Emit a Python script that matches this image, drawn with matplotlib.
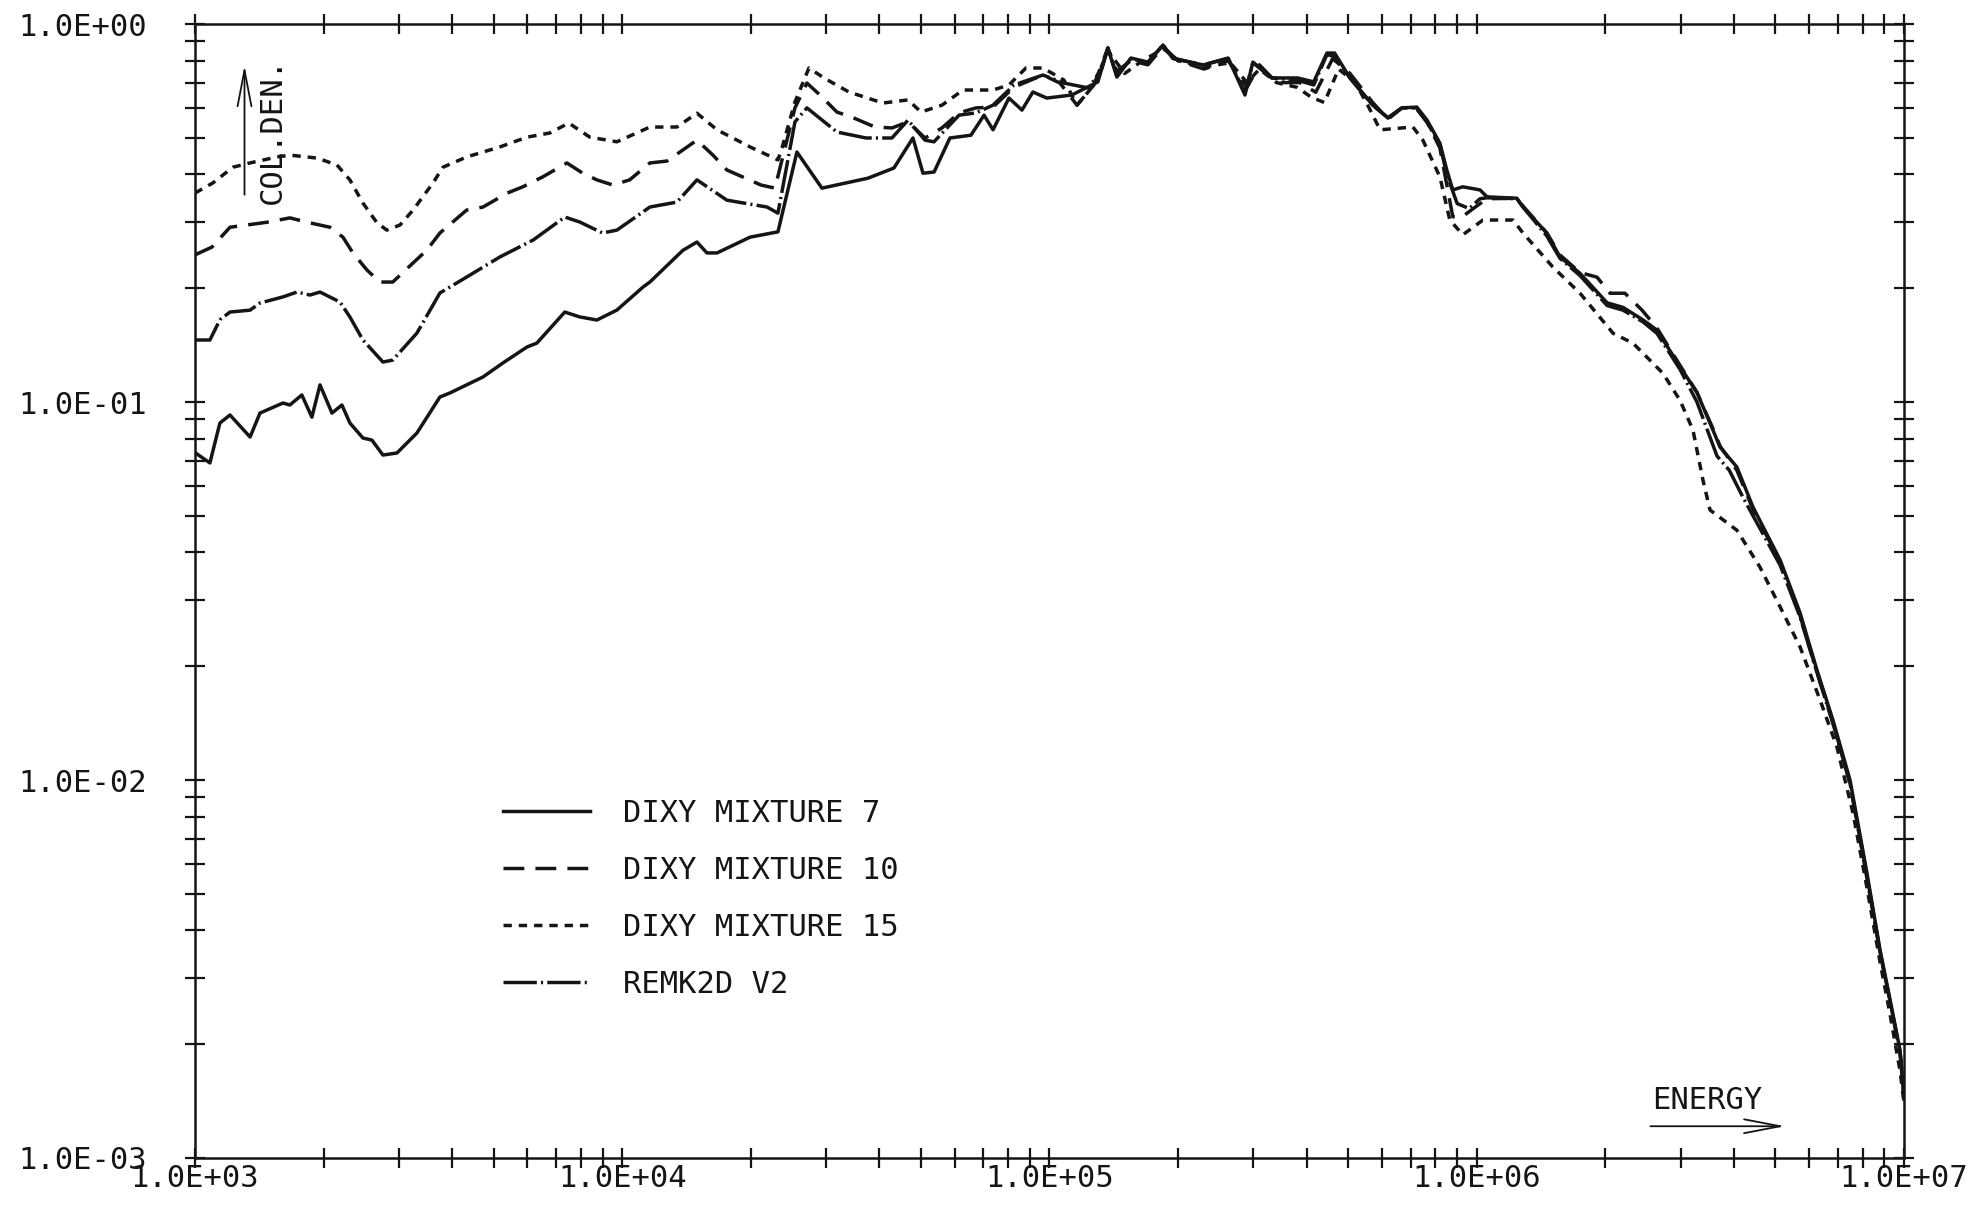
import numpy as np
import matplotlib
matplotlib.use("Agg")
import matplotlib.pyplot as plt
from matplotlib.ticker import LogLocator, FuncFormatter, NullFormatter

# Collision density spectra (energy in eV)
e_mix7 = [
    1000, 1084, 1144, 1208, 1346, 1420, 1607, 1668,
    1779, 1878, 1962, 2093, 2208, 2305, 2473, 2596,
    2754, 2970, 3308, 3744, 3954, 4723, 5260, 5985,
    6314, 7340, 7960, 8726, 9720, 11190, 11610, 13870,
    14960, 15790, 16670, 19920, 23150, 25640, 29340, 37600,
    43250, 47920, 50580, 53700, 58480, 65500, 70290, 73770,
    80380, 86240, 91460, 98560, 112800, 129800, 137000, 143800,
    155100, 170000, 184400, 194600, 228800, 261900, 286800, 299300,
    331600, 381100, 415500, 446000, 465000, 505000, 571000, 620000,
    668000, 724000, 765000, 820000, 851000, 879000, 928000, 1018000,
    1057000, 1242000, 1283000, 1459000, 1566000, 1745000, 2019000, 2200000,
    2448000, 2641000, 2991000, 3277000, 3572000, 3710000, 4063000, 4433000,
    5130000, 5711000, 6259000, 6820000, 7476000, 8188000, 8790000, 9276000,
    9790000, 10000000]
y_mix7 = [
    0.0735, 0.0690, 0.0880, 0.0924, 0.0808, 0.0935, 0.0994, 0.0982,
    0.1044, 0.0912, 0.111, 0.0935, 0.0982, 0.0880, 0.0803, 0.0793,
    0.0724, 0.0733, 0.0828, 0.1031, 0.1057, 0.1165, 0.1269, 0.1398,
    0.1432, 0.1730, 0.1679, 0.1648, 0.1751, 0.2015, 0.2077, 0.252,
    0.265, 0.248, 0.248, 0.273, 0.282, 0.4585, 0.368, 0.391,
    0.416, 0.4995, 0.403, 0.406, 0.4995, 0.508, 0.574, 0.525,
    0.637, 0.592, 0.661, 0.637, 0.649, 0.703, 0.864, 0.724,
    0.813, 0.793, 0.880, 0.813, 0.779, 0.813, 0.649, 0.793,
    0.720, 0.720, 0.703, 0.838, 0.838, 0.720, 0.610, 0.564,
    0.600, 0.603, 0.557, 0.484, 0.411, 0.364, 0.371, 0.364,
    0.349, 0.346, 0.328, 0.280, 0.242, 0.219, 0.183, 0.178,
    0.165, 0.155, 0.124, 0.106, 0.0843, 0.0760, 0.0673, 0.0527,
    0.0382, 0.0277, 0.0195, 0.0144, 0.0100, 0.00568, 0.00355, 0.00262,
    0.00193, 0.00143]

e_mix10 = [
    1000, 1096, 1208, 1323, 1474, 1669, 1830, 2070,
    2220, 2343, 2526, 2707, 2904, 3240, 3491, 3744,
    4325, 4723, 5380, 5853, 6513, 7423, 8087, 8726,
    9509, 10410, 11610, 12730, 14960, 16310, 17580, 21130,
    22780, 25370, 27060, 29030, 31810, 34860, 39050, 42790,
    46660, 51130, 56030, 61420, 67300, 73780, 82600, 96560,
    105800, 116000, 127100, 137000, 143800, 155100, 170000, 184400,
    200000, 230000, 262000, 290000, 310000, 340000, 385000, 420000,
    460000, 505000, 571000, 620000, 668000, 720000, 765000, 820000,
    879000, 928000, 1000000, 1057000, 1242000, 1283000, 1459000, 1566000,
    1745000, 1912000, 2051000, 2223000, 2437000, 2641000, 2991000, 3277000,
    3572000, 3710000, 4063000, 4433000, 5130000, 5711000, 6259000, 6820000,
    7476000, 8188000, 8790000, 9276000, 9790000, 10000000]
y_mix10 = [
    0.245, 0.257, 0.290, 0.294, 0.299, 0.307, 0.299, 0.290,
    0.273, 0.248, 0.2236, 0.2077, 0.2077, 0.2333, 0.2524, 0.280,
    0.322, 0.328, 0.357, 0.371, 0.394, 0.429, 0.403, 0.387,
    0.375, 0.387, 0.429, 0.434, 0.493, 0.450, 0.411, 0.375,
    0.368, 0.600, 0.698, 0.649, 0.585, 0.564, 0.534, 0.531,
    0.551, 0.4995, 0.531, 0.582, 0.600, 0.603, 0.681, 0.733,
    0.698, 0.610, 0.690, 0.864, 0.75, 0.80, 0.78, 0.87,
    0.80, 0.76, 0.80, 0.68, 0.78, 0.70, 0.70, 0.66,
    0.81, 0.74, 0.62, 0.56, 0.60, 0.60, 0.55, 0.47,
    0.309, 0.31, 0.33, 0.345, 0.346, 0.33, 0.28, 0.245,
    0.22, 0.214, 0.194, 0.194, 0.175, 0.157, 0.125, 0.106,
    0.085, 0.0765, 0.066, 0.052, 0.0378, 0.0272, 0.0193, 0.0142,
    0.0098, 0.0055, 0.0035, 0.0026, 0.0019, 0.0015]

e_mix15 = [
    1000, 1102, 1227, 1345, 1556, 1669, 1929, 2149,
    2305, 2473, 2667, 2812, 3020, 3240, 3608, 3806,
    4325, 5174, 5985, 6773, 7500, 8400, 9720, 11610,
    13430, 14960, 16670, 19920, 23150, 23660, 25370, 27360,
    29670, 33940, 40760, 46660, 50040, 56030, 62760, 73780,
    80380, 88100, 96560, 108100, 116000, 127100, 137000, 150000,
    165000, 185000, 200000, 230000, 265000, 290000, 310000, 340000,
    380000, 410000, 440000, 475000, 520000, 560000, 594000, 709000,
    748000, 820000, 865000, 928000, 1034000, 1216000, 1283000, 1507000,
    1745000, 2085000, 2323000, 2730000, 2991000, 3207000, 3384000, 3516000,
    4063000, 4600000, 5130000, 5711000, 6359000, 6970000, 7598000, 8188000,
    8790000, 9276000, 9790000, 10000000]
y_mix15 = [
    0.357, 0.380, 0.418, 0.429, 0.445, 0.450, 0.442, 0.424,
    0.387, 0.336, 0.298, 0.285, 0.294, 0.322, 0.380, 0.418,
    0.445, 0.473, 0.502, 0.515, 0.547, 0.502, 0.488, 0.534,
    0.534, 0.581, 0.525, 0.473, 0.437, 0.470, 0.622, 0.765,
    0.720, 0.661, 0.618, 0.630, 0.585, 0.610, 0.669, 0.669,
    0.690, 0.765, 0.765, 0.711, 0.610, 0.690, 0.85, 0.74,
    0.80, 0.86, 0.80, 0.77, 0.79, 0.70, 0.76, 0.70,
    0.68, 0.64, 0.62, 0.76, 0.70, 0.60, 0.525, 0.534,
    0.493, 0.394, 0.303, 0.277, 0.303, 0.303, 0.280, 0.2276,
    0.194, 0.152, 0.143, 0.119, 0.101, 0.0843, 0.0622, 0.0518,
    0.0458, 0.0366, 0.0287, 0.0225, 0.0163, 0.0122, 0.00818, 0.0052,
    0.0033, 0.0024, 0.0017, 0.0014]

e_remk = [
    1000, 1084, 1144, 1208, 1346, 1420, 1607, 1733,
    1859, 1962, 2185, 2305, 2473, 2754, 2904, 3308,
    3744, 4325, 5174, 6193, 7340, 7960, 8993, 9720,
    11610, 13430, 14960, 17580, 21820, 23150, 25370, 27060,
    31810, 37200, 42790, 46660, 51130, 53670, 61420, 67300,
    73780, 82600, 96560, 108100, 123700, 132700, 137000, 143800,
    155100, 170000, 184400, 194600, 228800, 261900, 286800, 299300,
    331600, 381100, 415500, 446000, 465000, 505000, 571000, 620000,
    668000, 724000, 765000, 820000, 851000, 900000, 960000, 1018000,
    1057000, 1242000, 1283000, 1459000, 1566000, 1745000, 2019000, 2200000,
    2448000, 2641000, 2991000, 3277000, 3650000, 3900000, 4198000, 4433000,
    5130000, 5711000, 6259000, 6820000, 7476000, 8188000, 8790000, 9276000,
    9790000, 10000000]
y_remk = [
    0.1459, 0.1459, 0.165, 0.173, 0.175, 0.1828, 0.1897, 0.1954,
    0.1919, 0.1954, 0.1839, 0.1679, 0.1459, 0.1276, 0.1291, 0.1522,
    0.1943, 0.2141, 0.2420, 0.2684, 0.3086, 0.2993, 0.280, 0.285,
    0.328, 0.338, 0.387, 0.342, 0.328, 0.316, 0.551, 0.600,
    0.518, 0.4995, 0.4995, 0.557, 0.493, 0.488, 0.574, 0.582,
    0.610, 0.690, 0.733, 0.698, 0.677, 0.765, 0.864, 0.73,
    0.81, 0.79, 0.88, 0.81, 0.78, 0.81, 0.66, 0.79,
    0.72, 0.71, 0.69, 0.83, 0.82, 0.72, 0.61, 0.565,
    0.60, 0.60, 0.55, 0.48, 0.40, 0.335, 0.325, 0.345,
    0.347, 0.345, 0.328, 0.275, 0.24, 0.216, 0.18, 0.175,
    0.163, 0.152, 0.122, 0.10, 0.072, 0.066, 0.056, 0.050,
    0.037, 0.027, 0.0192, 0.0141, 0.0098, 0.0056, 0.0035, 0.0026,
    0.0019, 0.00145]

labels = ["DIXY MIXTURE 7", "DIXY MIXTURE 10", "DIXY MIXTURE 15", "REMK2D V2"]

INK = "#151515"


def decade_label(v, pos):
    return "1.0E%+03d" % int(round(np.log10(v)))


def make_plot():
    plt.rcParams["font.family"] = ["DejaVu Sans Mono"]
    plt.rcParams["lines.scale_dashes"] = False

    fig = plt.figure(figsize=(19.71, 12.08), dpi=100)
    ax = fig.add_axes([0.0989, 0.0414, 0.8671, 0.9387])

    ax.plot(e_mix7, y_mix7, color=INK, lw=2.5, label=labels[0])
    ax.plot(e_mix10, y_mix10, color=INK, lw=2.5, dashes=(15, 8),
            label=labels[1])
    ax.plot(e_mix15, y_mix15, color=INK, lw=2.5, dashes=(6, 5),
            label=labels[2])
    ax.plot(e_remk, y_remk, color=INK, lw=2.5, dashes=(24, 3, 1.5, 3),
            label=labels[3])

    ax.set_xscale("log")
    ax.set_yscale("log")
    ax.set_xlim(1e3, 1e7)
    ax.set_ylim(1e-3, 1.0)

    for axis in (ax.xaxis, ax.yaxis):
        axis.set_major_locator(LogLocator(base=10, numticks=20))
        axis.set_minor_locator(LogLocator(base=10, subs=np.arange(2, 10),
                                          numticks=40))
        axis.set_major_formatter(FuncFormatter(decade_label))
        axis.set_minor_formatter(NullFormatter())

    ax.tick_params(which="both", direction="inout", length=15, width=1.6,
                   top=True, right=True, colors=INK, labelsize=22)
    ax.tick_params(axis="y", pad=27)
    ax.tick_params(axis="x", pad=-3)
    for sp in ax.spines.values():
        sp.set_linewidth(1.8)
        sp.set_color(INK)

    # axis annotations drawn inside the frame, as on the original plot
    ax.text(0.0456, 0.9065, "COL.DEN.", rotation=90, ha="center",
            va="center", fontsize=22, color=INK, transform=ax.transAxes)
    ax.annotate("", xy=(0.029, 0.966), xytext=(0.029, 0.847),
                xycoords="axes fraction", textcoords="axes fraction",
                arrowprops=dict(arrowstyle="->,head_length=1.3,head_width=0.25",
                                lw=1.3, color=INK, mutation_scale=20))
    ax.text(0.885, 0.051, "ENERGY", ha="center", va="center", fontsize=22,
            color=INK, transform=ax.transAxes)
    ax.annotate("", xy=(0.932, 0.028), xytext=(0.850, 0.028),
                xycoords="axes fraction", textcoords="axes fraction",
                arrowprops=dict(arrowstyle="->,head_length=1.3,head_width=0.25",
                                lw=1.3, color=INK, mutation_scale=20))

    leg = ax.legend(loc="upper left", bbox_to_anchor=(0.180, 0.3165),
                    frameon=False, fontsize=22, handlelength=2.85,
                    handletextpad=1.08, labelspacing=0.91, borderpad=0,
                    borderaxespad=0)
    for txt in leg.get_texts():
        txt.set_color(INK)

    fig.savefig("out.png", dpi=100)


if __name__ == '__main__':
    make_plot()
